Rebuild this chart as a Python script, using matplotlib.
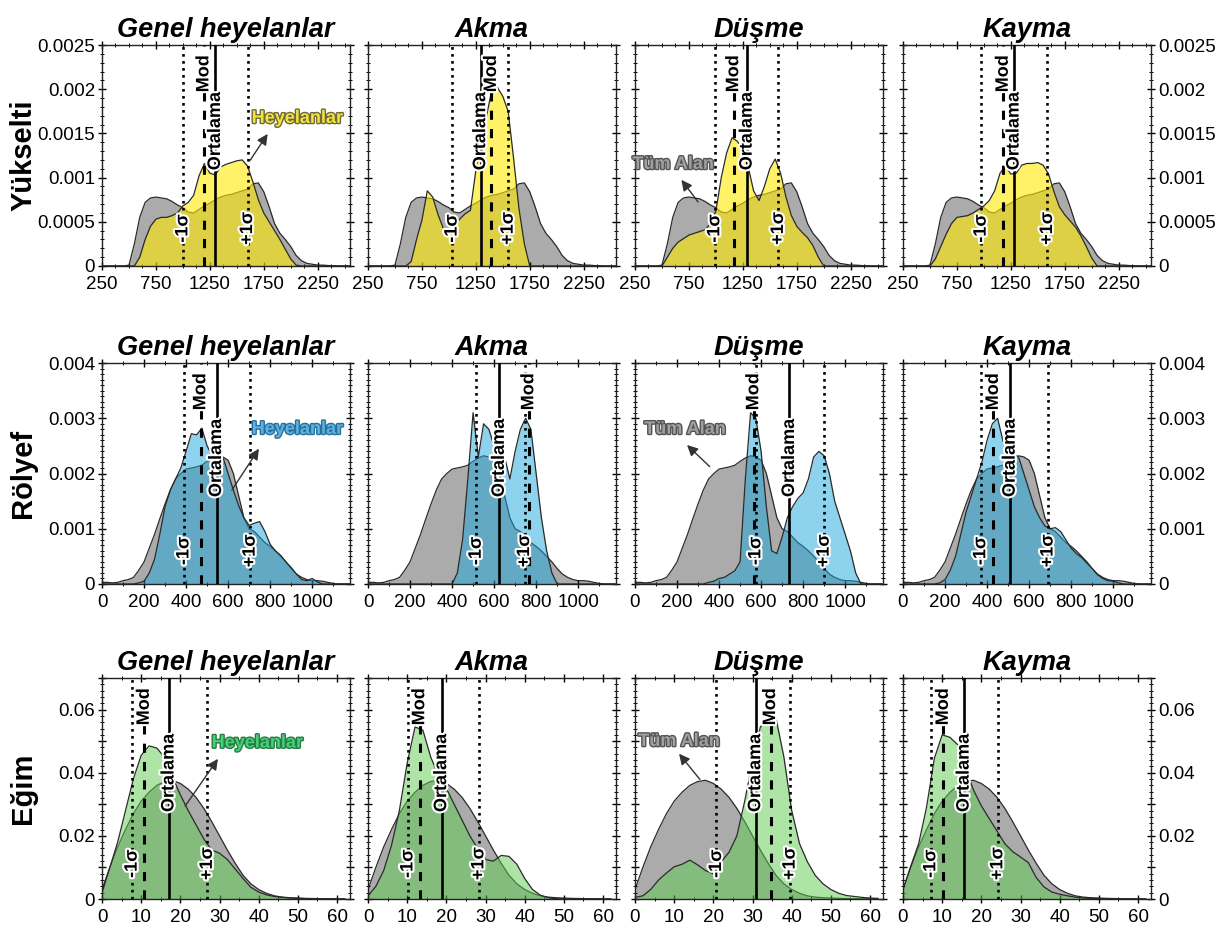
import numpy as np
import matplotlib
matplotlib.use("Agg")
import matplotlib.pyplot as plt
import matplotlib.transforms as mtransforms
from matplotlib import patheffects as pe
from matplotlib.ticker import MultipleLocator, FuncFormatter

plt.rcParams['font.family'] = ['Liberation Sans', 'DejaVu Sans']

# ---------------- data ----------------
columns = ['Genel heyelanlar', 'Akma', 'Düşme', 'Kayma']
row_names = ['Yükselti', 'Rölyef', 'Eğim']

# Row 1: elevation (x step 50, 250..2550)
elev_x = np.arange(250, 2551, 50)
elev_all = [0, 0, 0, 0, 0, 0.00001, 0.00025, 0.00055, 0.00072, 0.00077, 0.00078, 0.00077,
            0.00076, 0.00073, 0.00069, 0.00066, 0.00061, 0.0006, 0.00064, 0.00068, 0.00071,
            0.00075, 0.00078, 0.0008, 0.00081, 0.00083, 0.00085, 0.00087, 0.00093, 0.00094,
            0.00084, 0.00067, 0.00048, 0.00037, 0.0003, 0.00022, 0.00012, 0.00006, 0.00003,
            0.00002, 0.00001, 0.00001, 0.000005, 0.000003, 0, 0, 0]
elev_genel = [0, 0, 0, 0, 0, 0, 0, 0.0001, 0.0003, 0.00045, 0.00053, 0.00055, 0.00055, 0.00057,
              0.0006, 0.00068, 0.00072, 0.0008, 0.00102, 0.00116, 0.00105, 0.00103, 0.00112,
              0.00115, 0.00117, 0.00119, 0.0012, 0.00113, 0.00095, 0.00075, 0.0006, 0.0005,
              0.0004, 0.0003, 0.00019, 0.00008, 0.00001, 0, 0, 0, 0, 0, 0, 0, 0, 0, 0]
elev_akma = [0, 0, 0, 0, 0, 0, 0, 0, 0.00005, 0.0003, 0.00052, 0.00085, 0.00078, 0.00058,
             0.00042, 0.00038, 0.00045, 0.00053, 0.00059, 0.00063, 0.00108, 0.00145, 0.0017,
             0.002, 0.00202, 0.00192, 0.00175, 0.00122, 0.00065, 0.00025, 0,
             0, 0, 0, 0, 0, 0, 0, 0, 0, 0, 0, 0, 0, 0, 0, 0]
elev_dusme = [0, 0, 0, 0, 0, 0, 0.0001, 0.0002, 0.00027, 0.00031, 0.00035, 0.00037, 0.00039,
              0.00041, 0.00048, 0.00062, 0.001, 0.00128, 0.00145, 0.00141, 0.0013, 0.00112,
              0.00085, 0.00074, 0.0009, 0.0011, 0.00121, 0.00105, 0.00078, 0.00057, 0.00045,
              0.00038, 0.00032, 0.00023, 0.0001, 0, 0, 0, 0, 0, 0, 0, 0, 0, 0, 0, 0]
elev_kayma = [0, 0, 0, 0, 0, 0, 0.00008, 0.00022, 0.00036, 0.00048, 0.00055, 0.00056, 0.00057,
              0.0006, 0.00064, 0.00068, 0.00074, 0.00085, 0.00105, 0.00113, 0.00104, 0.00105,
              0.00114, 0.00116, 0.00116, 0.00117, 0.00114, 0.00104, 0.00084, 0.00067, 0.00058,
              0.00051, 0.00044, 0.00034, 0.00022, 0.00009, 0, 0, 0, 0, 0, 0, 0, 0, 0, 0, 0]

# Row 2: relief (x step 25, 0..1175)
rel_x = np.arange(0, 1176, 25)
rel_all = [0.00003, 0.00003, 0.00002, 0.00003, 0.00006, 0.00008, 0.00012, 0.00025, 0.0004,
           0.00065, 0.0009, 0.00118, 0.00145, 0.0017, 0.0019, 0.002, 0.00208, 0.0021, 0.00212,
           0.00215, 0.00222, 0.00228, 0.00232, 0.0023, 0.00224, 0.002, 0.0016, 0.0012, 0.001,
           0.00095, 0.00085, 0.00075, 0.00068, 0.0006, 0.0005, 0.0004, 0.00028, 0.00018,
           0.00012, 0.00008, 0.00006, 0.00006, 0.00005, 0.00003, 0.00001, 0, 0, 0]
rel_genel = [0, 0, 0, 0, 0, 0, 0, 0.00002, 0.00005, 0.0002, 0.00045, 0.0009, 0.0014, 0.0017,
             0.0019, 0.0021, 0.0024, 0.00272, 0.0027, 0.00282, 0.0025, 0.00232, 0.0023, 0.0023,
             0.002, 0.0017, 0.00142, 0.0012, 0.00106, 0.0011, 0.00113, 0.00095, 0.00072, 0.0006,
             0.00052, 0.0004, 0.0003, 0.00018, 0.00008, 0.00006, 0.0001, 0.00004, 0,
             0, 0, 0, 0, 0]
rel_akma = [0, 0, 0, 0, 0, 0, 0, 0, 0, 0, 0, 0, 0, 0, 0, 0, 0, 0.0002, 0.0008, 0.0019, 0.0031,
            0.0023, 0.0029, 0.0028, 0.0025, 0.0024, 0.0023, 0.0019, 0.0024, 0.0028, 0.003,
            0.0028, 0.002, 0.0012, 0.0006, 0.0002, 0, 0, 0, 0, 0, 0, 0, 0, 0, 0, 0, 0]
rel_dusme = [0, 0, 0, 0, 0, 0, 0, 0, 0, 0, 0, 0, 0, 0, 0.00003, 0.00005, 0.0001, 0.00012,
             0.00018, 0.00024, 0.0004, 0.0019, 0.0031, 0.003, 0.0024, 0.0014, 0.0006, 0.00055,
             0.00085, 0.0012, 0.0014, 0.00155, 0.00165, 0.0019, 0.0023, 0.0024, 0.00232, 0.002,
             0.0015, 0.0012, 0.0009, 0.0006, 0.0002, 0, 0, 0, 0, 0]
rel_kayma = [0, 0, 0, 0, 0, 0, 0, 0.00002, 0.00008, 0.00025, 0.0005, 0.0009, 0.0013, 0.0016,
             0.0019, 0.0022, 0.0026, 0.0029, 0.003, 0.0026, 0.0023, 0.00235, 0.0023, 0.002,
             0.0017, 0.0014, 0.0012, 0.00105, 0.001, 0.00102, 0.00095, 0.0008, 0.00065, 0.00055,
             0.00048, 0.00038, 0.00028, 0.00017, 0.0001, 0.00006, 0.00005, 0.00002, 0,
             0, 0, 0, 0, 0]

# Row 3: slope (x step 2, 0..62)
slope_x = np.arange(0, 63, 2)
slope_all = [0.003, 0.01, 0.0165, 0.022, 0.027, 0.031, 0.0338, 0.036, 0.0372, 0.0376, 0.0366,
             0.0348, 0.0322, 0.0287, 0.0245, 0.02, 0.0155, 0.0113, 0.0075, 0.0048, 0.003,
             0.0018, 0.001, 0.0006, 0.0004, 0.0003, 0.0002, 0.00015, 0.0001, 0.00008, 0.00005,
             0.00003]
slope_genel = [0.002, 0.01, 0.018, 0.028, 0.038, 0.0455, 0.0485, 0.0478, 0.0448, 0.0385, 0.033,
               0.028, 0.0235, 0.019, 0.0155, 0.0145, 0.0125, 0.0095, 0.0065, 0.0037, 0.0022,
               0.0013, 0.0008, 0.0005, 0.0003, 0.0002, 0.0001, 0.0001, 0.00005, 0.00003,
               0.00002, 0]
slope_akma = [0.001, 0.004, 0.009, 0.017, 0.028, 0.043, 0.0545, 0.0535, 0.045, 0.039, 0.035,
              0.03, 0.025, 0.02, 0.016, 0.0125, 0.012, 0.0138, 0.0135, 0.011, 0.0065, 0.003,
              0.0012, 0.0004, 0.0001, 0, 0, 0, 0, 0, 0, 0]
slope_dusme = [0.0005, 0.001, 0.003, 0.006, 0.0082, 0.0102, 0.011, 0.0123, 0.0108, 0.009, 0.008,
               0.0118, 0.0148, 0.02, 0.031, 0.0435, 0.0545, 0.0567, 0.0572, 0.045, 0.028,
               0.0175, 0.0118, 0.0075, 0.0048, 0.003, 0.0018, 0.0011, 0.0008, 0.0005, 0.0003,
               0.0002]
slope_kayma = [0.003, 0.0105, 0.0175, 0.029, 0.0445, 0.052, 0.0512, 0.0488, 0.041, 0.0345,
               0.0295, 0.0255, 0.0215, 0.0175, 0.015, 0.0133, 0.0115, 0.0068, 0.0038, 0.0022,
               0.0015, 0.001, 0.0006, 0.0003, 0.0002, 0.0001, 0.0001, 0.00005, 0, 0, 0, 0]

# statistics per panel: (-1 sigma, mode, mean, +1 sigma)
elev_stats = [(1000, 1195, 1302, 1600), (1030, 1395, 1295, 1550),
              (990, 1165, 1290, 1580), (975, 1180, 1280, 1590)]
rel_stats = [(390, 470, 545, 705), (515, 765, 625, 745),
             (575, 565, 735, 900), (370, 430, 510, 690)]
slope_stats = [(7.7, 10.8, 17.1, 26.9), (10.2, 13.2, 18.8, 28.3),
               (20.8, 34.6, 30.8, 39.6), (7.1, 10.3, 15.6, 24.2)]

rows = [
    dict(x=elev_x, all=elev_all, land=[elev_genel, elev_akma, elev_dusme, elev_kayma],
         stats=elev_stats, color='#ffea00', alpha=0.6, txt='#f2e43c', txt_edge='#6e6a3c',
         xlim=(250, 2550), xmaj=500, xmin=125, ylim=(0, 0.0025), ymaj=0.0005, ymin=0.0001,
         ylab_step=0.0005, hey=((2060, 0.00167), (1610, 0.00117), (1800, 0.00152)),
         tum=((604, 0.00115), (850, 0.0007), (665, 0.001)), ypos=(0.17, 0.87, 0.61, 0.17)),
    dict(x=rel_x, all=rel_all, land=[rel_genel, rel_akma, rel_dusme, rel_kayma],
         stats=rel_stats, color='#1fa8dc', alpha=0.5, txt='#5ab4e5', txt_edge='#2c6f99',
         xlim=(0, 1180), xmaj=200, xmin=100, ylim=(0, 0.004), ymaj=0.001, ymin=0.0001,
         ylab_step=0.001, hey=((929, 0.0028), (611, 0.00166), (754, 0.00249)),
         tum=((238, 0.0028), (365, 0.00209), (238, 0.00255)), ypos=(0.15, 0.87, 0.57, 0.15)),
    dict(x=slope_x, all=slope_all, land=[slope_genel, slope_akma, slope_dusme, slope_kayma],
         stats=slope_stats, color='#5fcd50', alpha=0.5, txt='#45d17a', txt_edge='#2a7a45',
         xlim=(0, 63.3), xmaj=10, xmin=5, ylim=(0, 0.07), ymaj=0.01, ymin=0.002,
         ylab_step=0.02, hey=((39.6, 0.0494), (20.8, 0.0287), (30, 0.0451)),
         tum=((11.25, 0.0499), (17, 0.0372), (10.8, 0.0467)), ypos=(0.16, 0.87, 0.57, 0.16)),
]

# ---------------- figure ----------------
W, H = 1222, 927
fig = plt.figure(figsize=(W / 100, H / 100), dpi=100)
lefts = [102, 368, 635, 903]
tops = [45, 363, 678]
aw, ah = 248, 221

white = [pe.withStroke(linewidth=3, foreground='white')]

for r, cfg in enumerate(rows):
    for c in range(4):
        ax = fig.add_axes([lefts[c] / W, 1 - (tops[r] + ah) / H, aw / W, ah / H])
        x = cfg['x']
        ax.fill_between(x, cfg['all'], color='#ababab', lw=0, zorder=1)
        ax.plot(x, cfg['all'], color='#2a2a2a', lw=0.9, zorder=1.5)
        ax.fill_between(x, cfg['land'][c], color=cfg['color'], alpha=cfg['alpha'], lw=0, zorder=2)
        ax.plot(x, cfg['land'][c], color='#2a2a2a', lw=0.9, zorder=2.5)

        lo, mode, mean, hi = cfg['stats'][c]
        trans = mtransforms.blended_transform_factory(ax.transData, ax.transAxes)
        ax.axvline(lo, color='k', ls=':', lw=1.9, zorder=4)
        ax.axvline(hi, color='k', ls=':', lw=1.9, zorder=4)
        ax.axvline(mode, color='k', ls=(0, (3, 3)), lw=2.2, zorder=4)
        ax.axvline(mean, color='k', ls='-', lw=1.9, zorder=4)
        ylo, ymod, ymean, yhi = cfg['ypos']
        for xv, yv, lab in [(lo, ylo, '-1σ'), (hi, yhi, '+1σ'), (mode, ymod, 'Mod'),
                            (mean, ymean, 'Ortalama')]:
            ax.text(xv, yv, lab, transform=trans, rotation=90, ha='center', va='center',
                    fontsize=13, fontweight='bold', path_effects=white, zorder=5)

        ax.set_xlim(*cfg['xlim'])
        ax.set_ylim(*cfg['ylim'])
        ax.xaxis.set_major_locator(MultipleLocator(cfg['xmaj'], offset=cfg['xlim'][0] % cfg['xmaj']))
        ax.xaxis.set_minor_locator(MultipleLocator(cfg['xmin']))
        ax.yaxis.set_major_locator(MultipleLocator(cfg['ymaj']))
        ax.yaxis.set_minor_locator(MultipleLocator(cfg['ymin']))
        step = cfg['ylab_step']
        ax.yaxis.set_major_formatter(FuncFormatter(
            lambda v, p, s=step: ('0' if abs(v) < 1e-12 else f'{v:g}')
            if abs(v / s - round(v / s)) < 1e-6 else ''))
        ax.tick_params(which='both', direction='inout', top=True, right=True,
                       labelleft=(c == 0), labelright=(c == 3), labelsize=13.5)
        ax.tick_params(axis='x', pad=4)
        ax.tick_params(axis='y', pad=2)
        ax.tick_params(which='major', length=6, width=1)
        ax.tick_params(which='minor', length=3, width=0.7)
        for s in ax.spines.values():
            s.set_linewidth(1)
            s.set_color('#222222')
        ax.set_title(columns[c], fontsize=19.5, fontweight='bold', fontstyle='italic', pad=6)

        if c == 0:
            (tx, ty), (ax0, ay0), (ax1, ay1) = cfg['hey']
            ax.annotate('', xy=(ax1, ay1), xytext=(ax0, ay0),
                        arrowprops=dict(arrowstyle='-|>', color='#333333', lw=1,
                                        mutation_scale=16), zorder=6)
            ax.text(tx, ty, 'Heyelanlar', color=cfg['txt'], fontsize=13, fontweight='bold',
                    ha='center', va='center', zorder=6,
                    path_effects=[pe.withStroke(linewidth=2, foreground=cfg['txt_edge'])])
        if c == 2:
            (tx, ty), (ax0, ay0), (ax1, ay1) = cfg['tum']
            ax.annotate('', xy=(ax1, ay1), xytext=(ax0, ay0),
                        arrowprops=dict(arrowstyle='-|>', color='#333333', lw=1,
                                        mutation_scale=16), zorder=6)
            ax.text(tx, ty, 'Tüm Alan', color='#a0a0a0', fontsize=13, fontweight='bold',
                    ha='center', va='center', zorder=6,
                    path_effects=[pe.withStroke(linewidth=2, foreground='#555555')])

    fig.text(0.019, 1 - (tops[r] + ah / 2) / H, row_names[r], rotation=90, ha='center',
             va='center', fontsize=21, fontweight='bold')

fig.savefig('out.png', dpi=100)
